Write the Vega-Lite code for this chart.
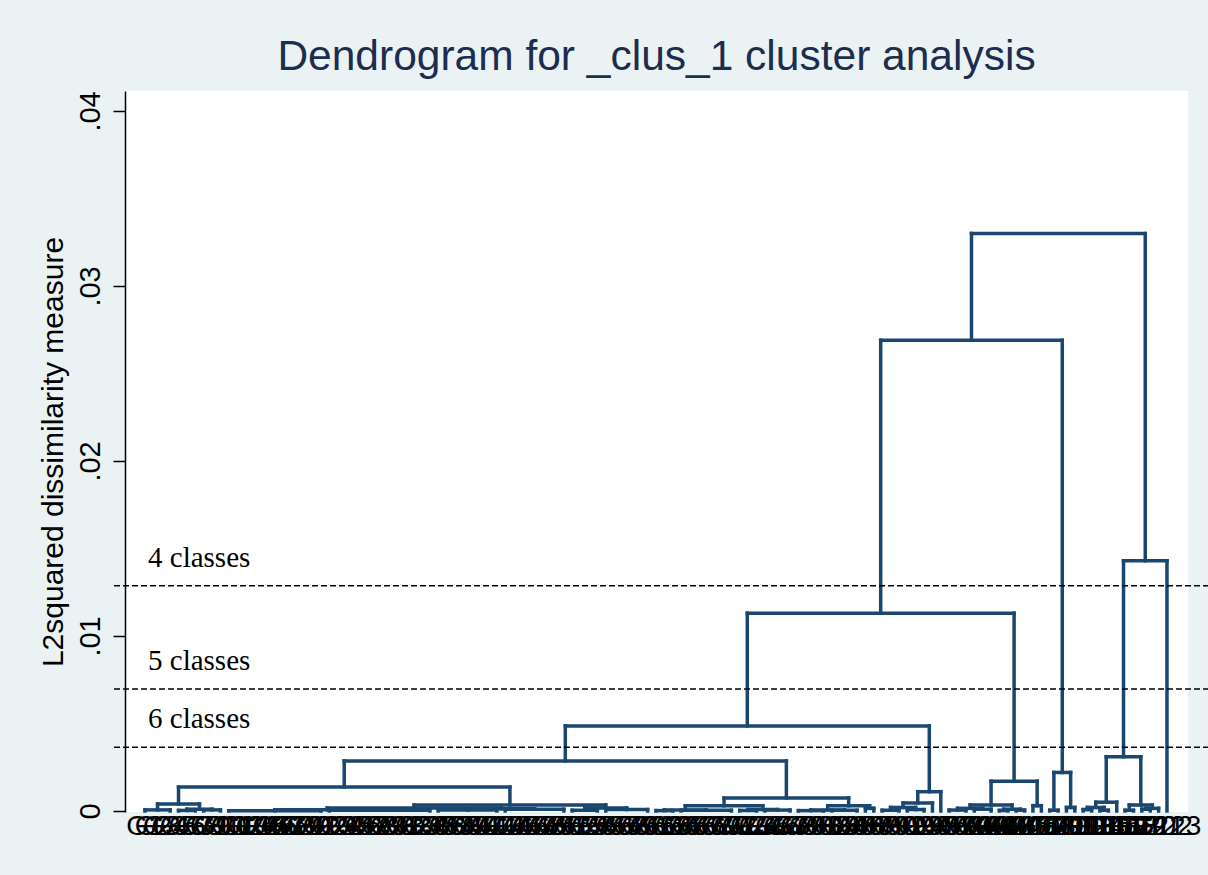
{
  "$schema": "https://vega.github.io/schema/vega-lite/v6.json",
  "width": 1063,
  "height": 721,
  "autosize": {"type": "none"},
  "padding": {"left": 125, "top": 91, "right": 20, "bottom": 63},
  "background": "#EAF2F3",
  "config": {"view": {"fill": "white", "stroke": null}, "axis": {"grid": false}},
  "title": {"text": "Dendrogram for _clus_1 cluster analysis", "fontSize": 42.5, "font": "Liberation Sans", "fontWeight": "normal", "color": "#1c2d4f", "anchor": "middle", "baseline": "alphabetic", "offset": 18, "dy": 40},
  "datasets": {
    "nodes": [
      {"node": "E1a", "xl": 1, "xr": 4, "h": 0.00006, "hl": 0, "hr": 0},
      {"node": "cA", "xl": 5, "xr": 7, "h": 0.00003, "hl": 0, "hr": 0},
      {"node": "cB", "xl": 8, "xr": 10, "h": 0.00006, "hl": 0, "hr": 0},
      {"node": "E1b", "xl": 6, "xr": 9, "h": 0.0001, "hl": 0.00003, "hr": 0.00006},
      {"node": "E1", "xl": 2.5, "xr": 7.5, "h": 0.0004, "hl": 0.00006, "hr": 0.0001},
      {"node": "c11", "xl": 11, "xr": 22, "h": 0.00001, "hl": 0, "hr": 0},
      {"node": "c23", "xl": 23, "xr": 35, "h": 0.00004, "hl": 0, "hr": 0},
      {"node": "E2a1", "xl": 16.5, "xr": 29, "h": 0.00007, "hl": 0.00001, "hr": 0.00004},
      {"node": "c36", "xl": 36, "xr": 43, "h": 0.00005, "hl": 0, "hr": 0},
      {"node": "c44", "xl": 44, "xr": 51, "h": 0.0001, "hl": 0, "hr": 0},
      {"node": "E2a2", "xl": 39.5, "xr": 47.5, "h": 0.00012, "hl": 0.00005, "hr": 0.0001},
      {"node": "E2a", "xl": 22.75, "xr": 43.5, "h": 0.00017, "hl": 0.00007, "hr": 0.00012},
      {"node": "c52", "xl": 52, "xr": 55, "h": 0.00004, "hl": 0, "hr": 0},
      {"node": "c56", "xl": 56, "xr": 61, "h": 0.00008, "hl": 0, "hr": 0},
      {"node": "E2b", "xl": 53.5, "xr": 58.5, "h": 0.00017, "hl": 0.00004, "hr": 0.00008},
      {"node": "E2", "xl": 33.125, "xr": 56, "h": 0.00034, "hl": 0.00017, "hr": 0.00017},
      {"node": "E", "xl": 5, "xr": 44.5625, "h": 0.00137, "hl": 0.0004, "hr": 0.00034},
      {"node": "c62", "xl": 62, "xr": 64, "h": 0.00002, "hl": 0, "hr": 0},
      {"node": "c65", "xl": 65, "xr": 71, "h": 0.00004, "hl": 0, "hr": 0},
      {"node": "F1a", "xl": 63, "xr": 68, "h": 0.00006, "hl": 0.00002, "hr": 0.00004},
      {"node": "c72", "xl": 72, "xr": 74, "h": 0.00003, "hl": 0, "hr": 0},
      {"node": "c75", "xl": 75, "xr": 78, "h": 0.00005, "hl": 0, "hr": 0},
      {"node": "F1b", "xl": 73, "xr": 76.5, "h": 0.00008, "hl": 0.00003, "hr": 0.00005},
      {"node": "F1", "xl": 65.5, "xr": 74.75, "h": 0.0003, "hl": 0.00006, "hr": 0.00008},
      {"node": "c79", "xl": 79, "xr": 82, "h": 0.00002, "hl": 0, "hr": 0},
      {"node": "c83", "xl": 83, "xr": 86, "h": 0.00004, "hl": 0, "hr": 0},
      {"node": "F2a", "xl": 80.5, "xr": 84.5, "h": 0.00006, "hl": 0.00002, "hr": 0.00004},
      {"node": "F2b", "xl": 87, "xr": 88, "h": 0.00015, "hl": 0, "hr": 0},
      {"node": "F2", "xl": 82.5, "xr": 87.5, "h": 0.0003, "hl": 0.00006, "hr": 0.00015},
      {"node": "F", "xl": 70.125, "xr": 85, "h": 0.00074, "hl": 0.0003, "hr": 0.0003},
      {"node": "D", "xl": 24.78125, "xr": 77.5625, "h": 0.00286, "hl": 0.00137, "hr": 0.00074},
      {"node": "c89", "xl": 89, "xr": 91, "h": 0.00004, "hl": 0, "hr": 0},
      {"node": "c92", "xl": 92, "xr": 94, "h": 0.00008, "hl": 0, "hr": 0},
      {"node": "H1a", "xl": 90, "xr": 93, "h": 0.0002, "hl": 0.00004, "hr": 0.00008},
      {"node": "H1", "xl": 91.5, "xr": 95, "h": 0.00046, "hl": 0.0002, "hr": 0},
      {"node": "H", "xl": 93.25, "xr": 96, "h": 0.0011, "hl": 0.00046, "hr": 0},
      {"node": "C", "xl": 51.171875, "xr": 94.625, "h": 0.00486, "hl": 0.00286, "hr": 0.0011},
      {"node": "c97", "xl": 97, "xr": 99, "h": 0.00005, "hl": 0, "hr": 0},
      {"node": "c100", "xl": 100, "xr": 102, "h": 0.0001, "hl": 0, "hr": 0},
      {"node": "G1a", "xl": 98, "xr": 101, "h": 0.00015, "hl": 0.00005, "hr": 0.0001},
      {"node": "c103", "xl": 103, "xr": 104, "h": 0.00003, "hl": 0, "hr": 0},
      {"node": "c105", "xl": 105, "xr": 106, "h": 0.00005, "hl": 0, "hr": 0},
      {"node": "G1b", "xl": 103.5, "xr": 105.5, "h": 0.0001, "hl": 0.00003, "hr": 0.00005},
      {"node": "G1", "xl": 99.5, "xr": 104.5, "h": 0.00034, "hl": 0.00015, "hr": 0.0001},
      {"node": "G2", "xl": 107, "xr": 108, "h": 0.0003, "hl": 0, "hr": 0},
      {"node": "G", "xl": 102, "xr": 107.5, "h": 0.0017, "hl": 0.00034, "hr": 0.0003},
      {"node": "B", "xl": 72.8984, "xr": 104.75, "h": 0.0113, "hl": 0.00486, "hr": 0.0017},
      {"node": "c109", "xl": 109, "xr": 110, "h": 0.00004, "hl": 0, "hr": 0},
      {"node": "c111", "xl": 111, "xr": 112, "h": 0.0002, "hl": 0, "hr": 0},
      {"node": "I", "xl": 109.5, "xr": 111.5, "h": 0.0022, "hl": 0.00004, "hr": 0.0002},
      {"node": "A", "xl": 88.8242, "xr": 110.5, "h": 0.0269, "hl": 0.0113, "hr": 0.0022},
      {"node": "c113", "xl": 113, "xr": 114, "h": 0.00008, "hl": 0, "hr": 0},
      {"node": "c115", "xl": 115, "xr": 116, "h": 0.00004, "hl": 0, "hr": 0},
      {"node": "K1a", "xl": 113.5, "xr": 115.5, "h": 0.0002, "hl": 0.00008, "hr": 0.00004},
      {"node": "K1", "xl": 114.5, "xr": 117, "h": 0.0005, "hl": 0.0002, "hr": 0},
      {"node": "K2a", "xl": 118, "xr": 119, "h": 0.00004, "hl": 0, "hr": 0},
      {"node": "c120", "xl": 120, "xr": 121, "h": 0.0001, "hl": 0, "hr": 0},
      {"node": "K2b", "xl": 120.5, "xr": 122, "h": 0.00015, "hl": 0.0001, "hr": 0},
      {"node": "K2", "xl": 118.5, "xr": 121.25, "h": 0.00034, "hl": 0.00004, "hr": 0.00015},
      {"node": "K", "xl": 115.75, "xr": 119.875, "h": 0.0031, "hl": 0.0005, "hr": 0.00034},
      {"node": "J", "xl": 117.8125, "xr": 123, "h": 0.0143, "hl": 0.0031, "hr": 0},
      {"node": "Top", "xl": 99.6621, "xr": 120.4063, "h": 0.033, "hl": 0.0269, "hr": 0.0143}
    ],
    "cuts": [
      {"label": "4 classes", "v": 0.01287},
      {"label": "5 classes", "v": 0.00697},
      {"label": "6 classes", "v": 0.00364}
    ],
    "leaves": [
      {"leaf": 1, "label": "G1"}, {"leaf": 2, "label": "G2"}, {"leaf": 3, "label": "G3"}, {"leaf": 4, "label": "G4"}, {"leaf": 5, "label": "G5"},
      {"leaf": 6, "label": "G6"}, {"leaf": 7, "label": "G7"}, {"leaf": 8, "label": "G8"}, {"leaf": 9, "label": "G9"}, {"leaf": 10, "label": "G10"},
      {"leaf": 11, "label": "G11"}, {"leaf": 12, "label": "G12"}, {"leaf": 13, "label": "G13"}, {"leaf": 14, "label": "G14"}, {"leaf": 15, "label": "G15"},
      {"leaf": 16, "label": "G16"}, {"leaf": 17, "label": "G17"}, {"leaf": 18, "label": "G18"}, {"leaf": 19, "label": "G19"}, {"leaf": 20, "label": "G20"},
      {"leaf": 21, "label": "G21"}, {"leaf": 22, "label": "G22"}, {"leaf": 23, "label": "G23"}, {"leaf": 24, "label": "G24"}, {"leaf": 25, "label": "G25"},
      {"leaf": 26, "label": "G26"}, {"leaf": 27, "label": "G27"}, {"leaf": 28, "label": "G28"}, {"leaf": 29, "label": "G29"}, {"leaf": 30, "label": "G30"},
      {"leaf": 31, "label": "G31"}, {"leaf": 32, "label": "G32"}, {"leaf": 33, "label": "G33"}, {"leaf": 34, "label": "G34"}, {"leaf": 35, "label": "G35"},
      {"leaf": 36, "label": "G36"}, {"leaf": 37, "label": "G37"}, {"leaf": 38, "label": "G38"}, {"leaf": 39, "label": "G39"}, {"leaf": 40, "label": "G40"},
      {"leaf": 41, "label": "G41"}, {"leaf": 42, "label": "G42"}, {"leaf": 43, "label": "G43"}, {"leaf": 44, "label": "G44"}, {"leaf": 45, "label": "G45"},
      {"leaf": 46, "label": "G46"}, {"leaf": 47, "label": "G47"}, {"leaf": 48, "label": "G48"}, {"leaf": 49, "label": "G49"}, {"leaf": 50, "label": "G50"},
      {"leaf": 51, "label": "G51"}, {"leaf": 52, "label": "G52"}, {"leaf": 53, "label": "G53"}, {"leaf": 54, "label": "G54"}, {"leaf": 55, "label": "G55"},
      {"leaf": 56, "label": "G56"}, {"leaf": 57, "label": "G57"}, {"leaf": 58, "label": "G58"}, {"leaf": 59, "label": "G59"}, {"leaf": 60, "label": "G60"},
      {"leaf": 61, "label": "G61"}, {"leaf": 62, "label": "G62"}, {"leaf": 63, "label": "G63"}, {"leaf": 64, "label": "G64"}, {"leaf": 65, "label": "G65"},
      {"leaf": 66, "label": "G66"}, {"leaf": 67, "label": "G67"}, {"leaf": 68, "label": "G68"}, {"leaf": 69, "label": "G69"}, {"leaf": 70, "label": "G70"},
      {"leaf": 71, "label": "G71"}, {"leaf": 72, "label": "G72"}, {"leaf": 73, "label": "G73"}, {"leaf": 74, "label": "G74"}, {"leaf": 75, "label": "G75"},
      {"leaf": 76, "label": "G76"}, {"leaf": 77, "label": "G77"}, {"leaf": 78, "label": "G78"}, {"leaf": 79, "label": "G79"}, {"leaf": 80, "label": "G80"},
      {"leaf": 81, "label": "G81"}, {"leaf": 82, "label": "G82"}, {"leaf": 83, "label": "G83"}, {"leaf": 84, "label": "G84"}, {"leaf": 85, "label": "G85"},
      {"leaf": 86, "label": "G86"}, {"leaf": 87, "label": "G87"}, {"leaf": 88, "label": "G88"}, {"leaf": 89, "label": "G89"}, {"leaf": 90, "label": "G90"},
      {"leaf": 91, "label": "G91"}, {"leaf": 92, "label": "G92"}, {"leaf": 93, "label": "G93"}, {"leaf": 94, "label": "G94"}, {"leaf": 95, "label": "G95"},
      {"leaf": 96, "label": "G96"}, {"leaf": 97, "label": "G97"}, {"leaf": 98, "label": "G98"}, {"leaf": 99, "label": "G99"}, {"leaf": 100, "label": "G100"},
      {"leaf": 101, "label": "G101"}, {"leaf": 102, "label": "G102"}, {"leaf": 103, "label": "G103"}, {"leaf": 104, "label": "G104"}, {"leaf": 105, "label": "G105"},
      {"leaf": 106, "label": "G106"}, {"leaf": 107, "label": "G107"}, {"leaf": 108, "label": "G108"}, {"leaf": 109, "label": "G109"}, {"leaf": 110, "label": "G110"},
      {"leaf": 111, "label": "G111"}, {"leaf": 112, "label": "G112"}, {"leaf": 113, "label": "G113"}, {"leaf": 114, "label": "G114"}, {"leaf": 115, "label": "G115"},
      {"leaf": 116, "label": "G116"}, {"leaf": 117, "label": "G117"}, {"leaf": 118, "label": "G118"}, {"leaf": 119, "label": "G119"}, {"leaf": 120, "label": "G120"},
      {"leaf": 121, "label": "G121"}, {"leaf": 122, "label": "G122"}, {"leaf": 123, "label": "G123"}
    ]
  },
  "layer": [
    {
      "data": {"name": "nodes"},
      "mark": {"type": "rule", "color": "#1A476F", "strokeWidth": 3.5, "strokeCap": "square"},
      "encoding": {
        "x": {"field": "xl", "type": "quantitative",
          "scale": {"domain": [-1.39, 125.51], "nice": false, "zero": false}, "axis": null},
        "x2": {"field": "xr"},
        "y": {"field": "h", "type": "quantitative",
          "scale": {"domain": [-0.00006, 0.04114], "nice": false, "zero": false},
          "axis": {"title": "L2squared dissimilarity measure", "titleFont": "Liberation Sans", "titleFontSize": 30, "titleFontWeight": "normal", "titleColor": "black", "titlePadding": 8,
            "values": [0, 0.01, 0.02, 0.03, 0.04],
            "labelExpr": "datum.value == 0 ? '0' : replace(format(datum.value, '.2f'), '0.', '.')",
            "labelAngle": -90, "labelAlign": "center", "labelBaseline": "alphabetic", "labelFont": "Liberation Sans", "labelFontSize": 29, "labelColor": "black", "labelPadding": 14,
            "tickSize": 12, "tickColor": "black", "tickWidth": 1.5, "domainColor": "black", "domainWidth": 1.5}}
      }
    },
    {
      "data": {"name": "nodes"},
      "mark": {"type": "rule", "color": "#1A476F", "strokeWidth": 3.5, "strokeCap": "square"},
      "encoding": {
        "x": {"field": "xl", "type": "quantitative", "axis": null},
        "y": {"field": "hl", "type": "quantitative"},
        "y2": {"field": "h"}
      }
    },
    {
      "data": {"name": "nodes"},
      "mark": {"type": "rule", "color": "#1A476F", "strokeWidth": 3.5, "strokeCap": "square"},
      "encoding": {
        "x": {"field": "xr", "type": "quantitative", "axis": null},
        "y": {"field": "hr", "type": "quantitative"},
        "y2": {"field": "h"}
      }
    },
    {
      "data": {"name": "cuts"},
      "mark": {"type": "rule", "color": "black", "strokeWidth": 1.4, "strokeDash": [6, 3]},
      "encoding": {
        "x": {"datum": -2.7, "type": "quantitative", "axis": null},
        "x2": {"datum": 128},
        "y": {"field": "v", "type": "quantitative"}
      }
    },
    {
      "data": {"name": "cuts"},
      "mark": {"type": "text", "align": "left", "baseline": "alphabetic", "dy": -19, "font": "Liberation Serif", "fontSize": 29, "color": "black"},
      "encoding": {
        "x": {"datum": 1.36, "type": "quantitative", "axis": null},
        "y": {"field": "v", "type": "quantitative"},
        "text": {"field": "label"}
      }
    },
    {
      "data": {"name": "leaves"},
      "mark": {"type": "text", "align": "center", "baseline": "top", "dy": 2, "font": "Liberation Sans", "fontSize": 28, "color": "black"},
      "encoding": {
        "x": {"field": "leaf", "type": "quantitative", "axis": null},
        "y": {"datum": 0, "type": "quantitative"},
        "text": {"field": "label"}
      }
    }
  ]
}
